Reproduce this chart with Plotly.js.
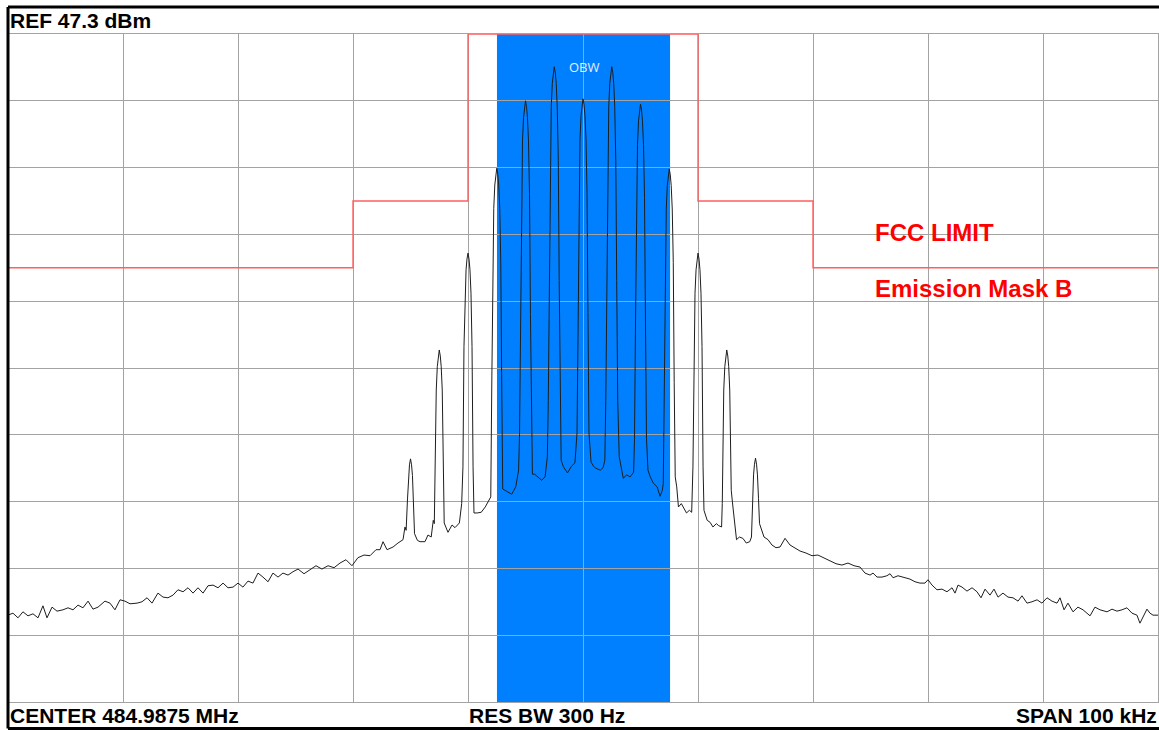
<!DOCTYPE html>
<html>
<head>
<meta charset="utf-8">
<script src="https://cdn.plot.ly/plotly-3.0.1.min.js"></script>
<style>
html,body{margin:0;padding:0;background:#fff;}
#chart{width:1159px;height:730px;}
</style>
</head>
<body>
<div id="chart"></div>
<script>
// Spectrum trace: frequency offset from centre (kHz) and level (dBm)
const traceFreq = [
-50.00,-49.57,-49.13,-48.70,-48.26,-47.83,-47.39,-46.96,-46.61,-46.17,-45.74,-45.22,-44.78,-44.35,-43.91,-43.48,-43.04,-42.61,-42.17,-41.57,
-41.13,-40.70,-40.26,-39.83,-39.39,-38.78,-38.35,-37.91,-37.48,-36.96,-36.52,-36.09,-35.65,-35.22,-34.78,-34.35,-33.91,-33.48,-33.04,-32.61,
-32.17,-31.74,-31.30,-30.87,-30.43,-30.00,-29.57,-29.13,-28.70,-28.26,-27.83,-27.39,-26.96,-26.52,-26.09,-25.65,-25.22,-24.78,-24.26,-23.74,
-23.22,-22.70,-22.17,-21.65,-21.13,-20.61,-20.09,-19.57,-19.04,-18.52,-18.00,-17.65,-17.39,-17.04,-16.52,-16.09,-15.65,-15.48,-15.38,
-15.26,-15.17,-15.09,-15.00,-14.91,-14.83,-14.74,-14.65,
-14.40,-14.17,-13.74,-13.48,-13.20,-13.02,
-12.93,-12.85,-12.76,-12.67,-12.59,-12.50,-12.41,-12.33,-12.24,-12.15,-12.07,
-11.74,-11.39,-11.13,-10.75,-10.55,
-10.44,-10.35,-10.26,-10.17,-10.09,-10.00,-9.91,-9.83,-9.74,-9.65,-9.56,-9.48,
-9.20,-8.85,-8.50,-8.20,
-8.02,-7.93,-7.85,-7.76,-7.67,-7.59,-7.50,-7.41,-7.33,-7.24,-7.15,-7.07,-6.98,
-6.80,-6.50,-6.20,-5.85,-5.60,
-5.52,-5.43,-5.35,-5.26,-5.17,-5.09,-5.00,-4.91,-4.83,-4.74,-4.65,-4.57,-4.48,-4.40,
-4.20,-3.90,-3.60,-3.30,-3.10,
-3.02,-2.93,-2.85,-2.76,-2.67,-2.59,-2.50,-2.41,-2.33,-2.24,-2.15,-2.07,-1.98,-1.90,
-1.70,-1.35,-1.00,-0.70,
-0.52,-0.43,-0.35,-0.26,-0.17,-0.09,0.00,0.09,0.17,0.26,0.35,0.43,0.52,
0.70,1.00,1.25,1.50,1.75,1.90,
1.98,2.07,2.15,2.24,2.33,2.41,2.50,2.59,2.67,2.76,2.85,2.93,3.02,
3.15,3.35,3.50,3.80,4.10,4.40,
4.48,4.57,4.65,4.74,4.83,4.91,5.00,5.09,5.17,5.26,5.35,5.43,5.52,
5.65,5.85,6.10,6.45,6.70,6.90,
6.98,7.07,7.15,7.24,7.33,7.41,7.50,7.59,7.67,7.76,7.85,7.93,8.02,
8.15,8.30,8.55,8.75,9.00,9.25,9.45,
9.56,9.65,9.74,9.83,9.91,10.00,10.09,10.17,10.26,10.35,10.44,10.52,
10.80,11.05,11.30,11.60,11.80,12.05,
12.11,12.15,12.24,12.33,12.41,12.50,12.59,12.67,12.76,12.85,12.89,
13.00,13.15,13.35,13.60,13.90,14.20,14.50,
14.65,14.74,14.83,14.91,15.00,15.09,15.17,15.26,15.35,
15.74,16.09,16.43,16.78,17.13,17.57,18.00,18.43,18.87,19.39,19.91,20.43,20.96,21.48,22.00,22.52,23.04,23.57,24.09,
24.52,24.96,25.22,25.57,26.00,26.43,26.70,26.96,27.39,27.83,28.43,28.87,29.30,29.74,30.00,30.35,30.78,31.22,31.65,32.09,
32.35,32.61,32.96,33.39,33.83,34.26,34.61,34.96,35.39,35.74,36.09,36.52,36.96,37.39,37.83,38.17,38.61,39.04,39.48,39.91,
40.35,40.78,41.22,41.48,41.83,42.17,42.61,43.04,43.48,44.09,44.52,44.96,45.57,46.00,46.43,46.87,47.30,47.74,48.17,48.43,
48.70,49.04,49.30,49.57,50.00
];
const traceLevel = [
-39.7,-39.4,-40.1,-39.2,-39.8,-39.5,-40.1,-38.3,-40.1,-38.5,-39.1,-38.9,-38.6,-38.9,-38.2,-38.6,-37.6,-38.8,-38.5,-37.6,
-37.9,-38.9,-37.4,-37.6,-38.0,-37.9,-37.7,-37.1,-37.9,-36.4,-37.0,-37.1,-36.7,-35.9,-36.2,-35.6,-36.4,-35.6,-36.4,-35.3,
-35.2,-35.6,-34.9,-35.6,-35.5,-34.9,-35.5,-34.6,-34.9,-33.4,-34.0,-34.7,-33.4,-34.0,-33.4,-33.7,-33.2,-32.8,-33.5,-32.9,
-32.3,-32.8,-32.3,-32.6,-31.9,-31.4,-32.3,-31.1,-30.7,-30.8,-29.9,-29.9,-28.7,-29.9,-29.5,-28.9,-28.4,-26.5,-27.0,
-22.3,-18.8,-17.2,-16.3,-17.2,-18.8,-22.3,-27.5,
-28.5,-28.7,-28.7,-27.7,-28.0,-25.5,
-26.0,-14.0,-6.0,-2.5,-0.9,0.0,-0.9,-2.5,-6.0,-14.0,-25.9,
-27.3,-26.2,-26.6,-25.9,-23.0,
-17.5,0.5,8.5,12.0,13.6,14.5,13.6,12.0,8.5,0.5,-17.5,-24.4,
-24.4,-24.3,-23.5,-22.5,
-22.0,-4.8,13.2,21.2,24.7,26.3,27.2,26.3,24.7,21.2,13.2,-4.8,-20.8,
-21.0,-21.3,-21.6,-20.5,-18.0,
-12.7,5.3,23.3,31.3,34.8,36.4,37.3,36.4,34.8,31.3,23.3,5.3,-12.7,-18.6,
-18.6,-19.0,-19.5,-19.0,-16.0,
-7.6,10.4,28.4,36.4,39.9,41.5,42.4,41.5,39.9,36.4,28.4,10.4,-7.6,-16.5,
-17.5,-18.4,-17.4,-16.9,
-12.4,5.6,23.6,31.6,35.1,36.7,37.6,36.7,35.1,31.6,23.6,5.6,-12.4,
-16.8,-17.6,-17.8,-18.0,-17.6,-16.5,
-7.6,10.4,28.4,36.4,39.9,41.5,42.4,41.5,39.9,36.4,28.4,10.4,-7.6,
-16.0,-18.0,-19.2,-18.7,-19.0,-18.3,
-13.2,4.8,22.8,30.8,34.3,35.9,36.8,35.9,34.3,30.8,22.8,4.8,-13.2,
-18.0,-19.0,-19.9,-20.5,-21.9,-21.0,
-20.0,-4.9,13.1,21.1,24.6,26.2,27.1,26.2,24.6,21.1,13.1,-4.9,-19.0,
-20.5,-23.5,-23.0,-23.6,-24.4,-24.0,-24.3,
-17.5,0.5,8.5,12.0,13.6,14.5,13.6,12.0,8.5,0.5,-17.5,-24.0,
-25.5,-25.8,-26.5,-26.0,-26.3,-26.5,
-23.0,-14.0,-6.0,-2.5,-0.9,0.0,-0.9,-2.5,-6.0,-14.0,-21.0,
-22.9,-25.0,-28.4,-28.0,-28.2,-28.9,-28.7,
-28.0,-22.2,-18.7,-17.1,-16.2,-17.1,-18.7,-22.2,-26.0,
-28.0,-28.4,-29.2,-29.6,-29.5,-28.2,-29.2,-29.6,-30.1,-30.4,-30.8,-30.7,-31.1,-31.6,-32.0,-32.2,-31.9,-32.3,-32.5,
-33.4,-33.7,-33.4,-34.0,-34.0,-33.8,-33.5,-34.1,-33.8,-34.0,-34.3,-34.7,-34.9,-34.9,-34.4,-35.2,-35.9,-35.8,-36.2,-35.6,
-36.4,-35.2,-35.5,-36.1,-35.6,-36.2,-37.1,-35.8,-36.7,-35.8,-37.0,-36.4,-37.0,-37.1,-37.6,-36.8,-37.9,-37.7,-37.4,-37.9,
-37.1,-37.6,-37.9,-37.1,-38.9,-37.9,-39.2,-38.5,-38.9,-39.8,-38.5,-38.9,-39.2,-38.8,-39.1,-38.9,-38.6,-39.4,-39.7,-40.9,
-40.0,-38.8,-39.4,-39.7,-39.7
];

// FCC emission mask B limit line
const maskFreq  = [-50, -20, -20, -10, -10, 10, 10, 20, 20, 50];
const maskLevel = [12.3, 12.3, 22.3, 22.3, 47.3, 47.3, 22.3, 22.3, 12.3, 12.3];

// Occupied bandwidth band (kHz)
const obwBand = [-7.48, 7.57];

// Display settings / labels
const refLevel = 47.3;      // dBm, top of screen
const dbPerDiv = 10;
const spanKHz = 100;
const labels = {
  ref: 'REF 47.3 dBm',
  center: 'CENTER 484.9875 MHz',
  rbw: 'RES BW 300 Hz',
  span: 'SPAN 100 kHz',
  limit1: 'FCC LIMIT',
  limit2: 'Emission Mask B',
  obw: 'OBW'
};

const yBottom = refLevel - 10 * dbPerDiv;
const gridCol = '#a3a3a3';

const data = [
  {
    x: maskFreq, y: maskLevel, type: 'scatter', mode: 'lines',
    line: {color: 'rgb(255,95,95)', width: 1.4}, hoverinfo: 'skip'
  },
  {
    x: traceFreq, y: traceLevel, type: 'scatter', mode: 'lines',
    line: {color: '#1e1e1e', width: 1}, hoverinfo: 'skip'
  }
];

const hdrFont = {family: 'Liberation Sans, Arial, sans-serif', size: 21, color: '#000'};
const redFont = {family: 'Liberation Sans, Arial, sans-serif', size: 24, color: '#ff0000'};

const layout = {
  width: 1159, height: 730,
  margin: {l: 8, r: 1, t: 34, b: 28, pad: 0},
  paper_bgcolor: '#ffffff', plot_bgcolor: '#ffffff',
  showlegend: false,
  xaxis: {
    range: [-spanKHz / 2, spanKHz / 2], tick0: -spanKHz / 2, dtick: spanKHz / 10,
    showgrid: true, gridcolor: gridCol, gridwidth: 1, zeroline: false,
    showticklabels: false, ticks: '', showline: true, mirror: true,
    linecolor: gridCol, linewidth: 1, fixedrange: true
  },
  yaxis: {
    range: [yBottom, refLevel], tick0: yBottom, dtick: dbPerDiv,
    showgrid: true, gridcolor: gridCol, gridwidth: 1, zeroline: false,
    showticklabels: false, ticks: '', showline: true, mirror: true,
    linecolor: gridCol, linewidth: 1, fixedrange: true
  },
  shapes: [
    {type: 'rect', xref: 'x', yref: 'paper', x0: obwBand[0], x1: obwBand[1], y0: 0, y1: 1,
     fillcolor: '#0080ff', line: {width: 0}, layer: 'below'},
    {type: 'line', xref: 'paper', yref: 'paper', x0: 0, x1: 1.0009, y0: 1.0404, y1: 1.0404,
     line: {color: '#000', width: 3}, layer: 'above'},
    {type: 'line', xref: 'paper', yref: 'paper', x0: 0, x1: 0, y0: 1.0404, y1: -0.0397,
     line: {color: '#000', width: 3}, layer: 'above'},
    {type: 'line', xref: 'paper', yref: 'paper', x0: 0, x1: 1.0009, y0: -0.0397, y1: -0.0397,
     line: {color: '#000', width: 3}, layer: 'above'}
  ],
  annotations: [
    {text: '<b>' + labels.ref + '</b>', xref: 'paper', yref: 'paper', x: 0.0017, y: 1.0195, xshift: -2,
     xanchor: 'left', yanchor: 'middle', showarrow: false, font: hdrFont},
    {text: '<b>' + labels.center + '</b>', xref: 'paper', yref: 'paper', x: 0.0017, y: -0.0195, xshift: -2,
     xanchor: 'left', yanchor: 'middle', showarrow: false, font: hdrFont},
    {text: '<b>' + labels.rbw + '</b>', xref: 'paper', yref: 'paper', x: 0.4009, y: -0.0195, xshift: -2,
     xanchor: 'left', yanchor: 'middle', showarrow: false, font: hdrFont},
    {text: '<b>' + labels.span + '</b>', xref: 'paper', yref: 'paper', x: 0.9991, y: -0.0195, xshift: 2,
     xanchor: 'right', yanchor: 'middle', showarrow: false, font: hdrFont},
    {text: '<b>' + labels.limit1 + '</b>', xref: 'paper', yref: 'paper', x: 0.7548, y: 0.7021, xshift: -3,
     xanchor: 'left', yanchor: 'middle', showarrow: false, font: redFont},
    {text: '<b>' + labels.limit2 + '</b>', xref: 'paper', yref: 'paper', x: 0.7548, y: 0.619, xshift: -3,
     xanchor: 'left', yanchor: 'middle', showarrow: false, font: redFont},
    {text: labels.obw, xref: 'paper', yref: 'paper', x: 0.5009, y: 0.9506,
     xanchor: 'center', yanchor: 'middle', showarrow: false,
     font: {family: 'Open Sans, sans-serif', size: 13, color: '#e6efff'}}
  ]
};

Plotly.newPlot('chart', data, layout, {displayModeBar: false, staticPlot: true});
</script>
</body>
</html>
